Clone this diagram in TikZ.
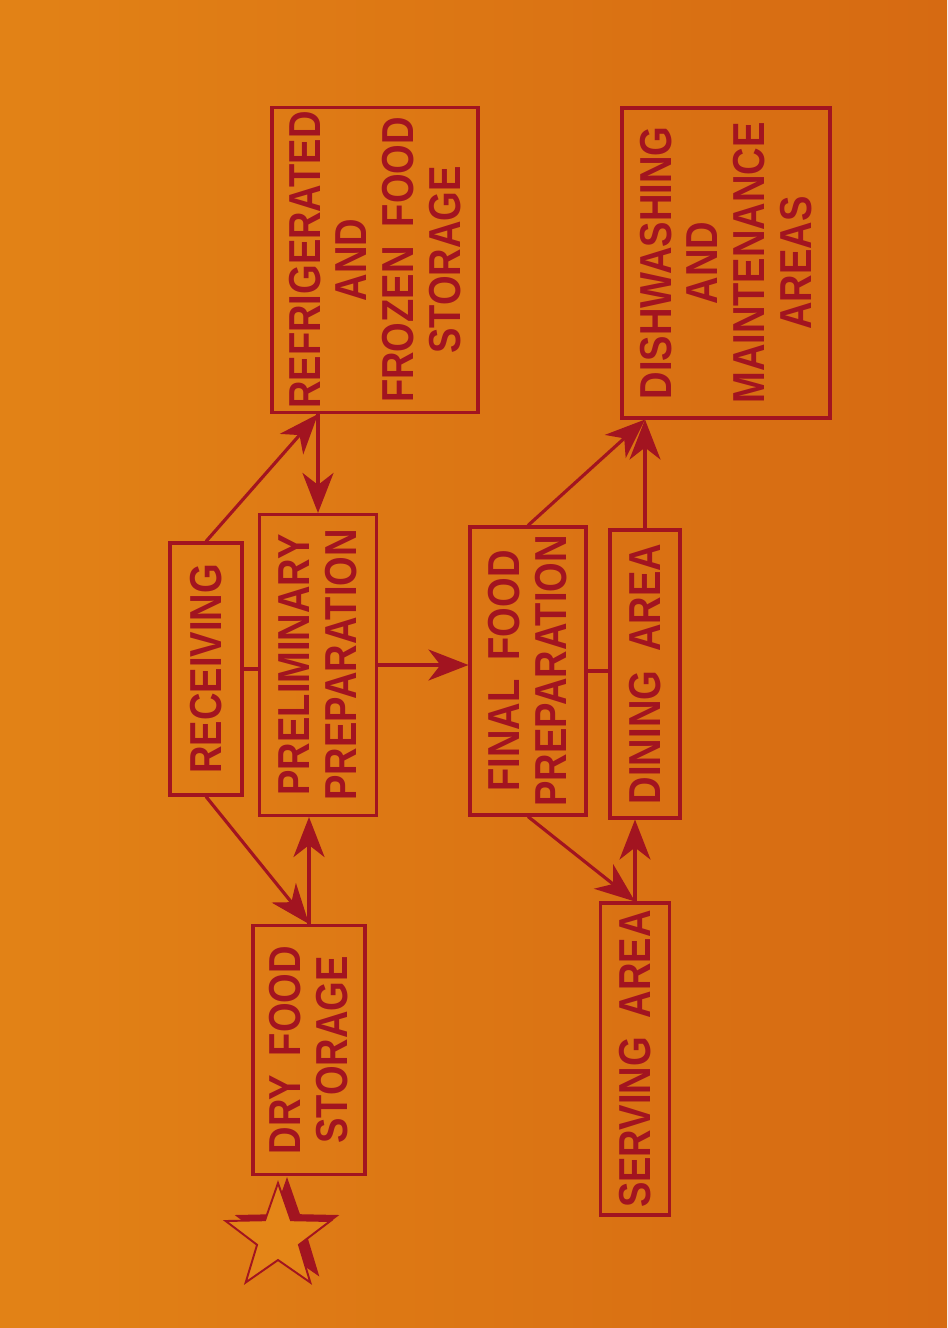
\documentclass[tikz,border=0pt]{standalone}
\usepackage{fontspec}
\setmainfont[FakeStretch=0.85, WordSpace=1.8]{Liberation Sans}
\usetikzlibrary{arrows.meta, calc, shapes.geometric}

\definecolor{paperleft}{RGB}{226,130,22}
\definecolor{papermid}{RGB}{232,138,24}
\definecolor{paperright}{RGB}{214,106,18}
\definecolor{ink}{RGB}{162,20,32}

\begin{document}
\begin{tikzpicture}[
    x=0.02cm, y=-0.02cm,
    box/.style={
        rectangle,
        draw=ink,
        line width=1.8pt,
        rotate=90,
        align=center,
        text=ink,
        inner sep=0pt,
        font=\fontsize{25.5}{26.7}\selectfont\bfseries
    },
    arrow/.style={-{Stealth[length=0.8cm, width=0.62cm, inset=0.24cm]}, draw=ink, line width=1.8pt},
    link/.style={draw=ink, line width=1.8pt},
    starmark/.style={star, star points=5, star point ratio=2.5, minimum size=2.2cm, inner sep=0pt}
]

\useasboundingbox (0,0) rectangle (947,1328);
\shade[left color=paperleft, middle color=papermid, right color=paperright] (0,0) rectangle (947,1328);

\node[box, minimum width=6.1cm, minimum height=4.12cm] (refrig) at (375,260) {REFRIGERATED\\AND\\FROZEN FOOD\\STORAGE};
\node[box, minimum width=6.2cm, minimum height=4.16cm] (dish) at (726,263) {DISHWASHING\\AND\\MAINTENANCE\\AREAS};
\node[box, minimum width=5.04cm, minimum height=1.44cm] (receiving) at (206,669) {RECEIVING};
\node[box, minimum width=6.02cm, minimum height=2.34cm] (prelim) at (318,665) {PRELIMINARY\\PREPARATION};
\node[box, minimum width=5.76cm, minimum height=2.32cm] (final) at (528,671) {FINAL FOOD\\PREPARATION};
\node[box, minimum width=5.76cm, minimum height=1.4cm] (dining) at (645,674) {DINING AREA};
\node[box, minimum width=4.98cm, minimum height=2.24cm] (dry) at (309,1050) {DRY FOOD\\STORAGE};
\node[box, minimum width=6.24cm, minimum height=1.38cm] (serving) at (635,1059) {SERVING AREA};

\node[starmark, fill=ink] (starshade) at (287,1232) {};
\node[starmark, draw=ink, line width=1.1pt, fill=paperleft!60!papermid] (star) at (278,1238) {};

\coordinate (rf) at (prelim.east |- refrig.west);
\coordinate (dw) at (dining.east |- dish.west);

\draw[arrow] (receiving.east) -- (rf);
\draw[arrow] (rf) -- (prelim.east);
\draw[arrow] (receiving.west) -- (dry.east);
\draw[arrow] (dry.east) -- (dry.east |- prelim.west);
\draw[link] (receiving.south) -- (receiving.south -| prelim.north);
\draw[arrow] (prelim.south) -- (prelim.south -| final.north);
\draw[link] (final.south) -- (final.south -| dining.north);
\draw[arrow] (final.east) -- (dw);
\draw[arrow] (dining.east) -- (dw);
\draw[arrow] (final.west) -- (serving.east);
\draw[arrow] (serving.east) -- (serving.east |- dining.west);

\end{tikzpicture}
\end{document}
